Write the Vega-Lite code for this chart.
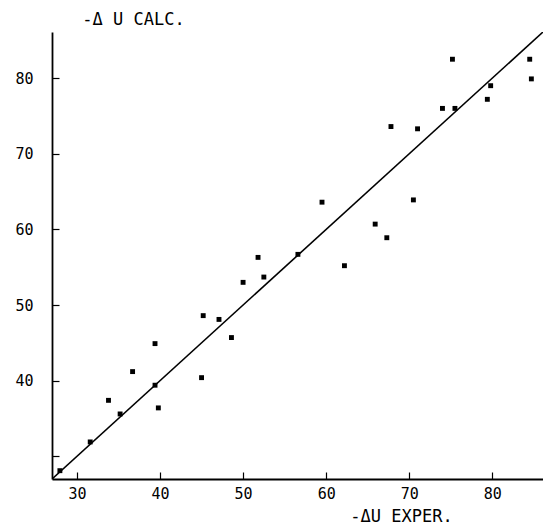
{
  "$schema": "https://vega.github.io/schema/vega-lite/v6.json",
  "autosize": "none",
  "width": 491,
  "height": 447,
  "padding": {"left": 52, "top": 32, "right": 0, "bottom": 47},
  "background": "white",
  "config": {
    "view": {"stroke": null},
    "font": "DejaVu Sans Mono",
    "axis": {
      "grid": false,
      "domainColor": "black",
      "domainWidth": 1.8,
      "tickColor": "black",
      "tickWidth": 1.2,
      "tickSize": -7,
      "labelColor": "black",
      "labelFont": "DejaVu Sans Mono",
      "labelFontSize": 15,
      "titleFont": "DejaVu Sans Mono",
      "titleFontSize": 17,
      "titleFontWeight": "normal",
      "titleColor": "black"
    }
  },
  "datasets": {
    "pts": [
      {"exp": 27.95, "calc": 28.1},
      {"exp": 31.6, "calc": 31.9},
      {"exp": 33.8, "calc": 37.4},
      {"exp": 35.2, "calc": 35.6},
      {"exp": 36.7, "calc": 41.2},
      {"exp": 39.4, "calc": 44.9},
      {"exp": 39.4, "calc": 39.4},
      {"exp": 39.8, "calc": 36.4},
      {"exp": 45.0, "calc": 40.4},
      {"exp": 45.2, "calc": 48.6},
      {"exp": 47.1, "calc": 48.1},
      {"exp": 48.6, "calc": 45.7},
      {"exp": 50.0, "calc": 53.0},
      {"exp": 51.8, "calc": 56.3},
      {"exp": 52.5, "calc": 53.7},
      {"exp": 56.6, "calc": 56.7},
      {"exp": 59.5, "calc": 63.6},
      {"exp": 62.2, "calc": 55.2},
      {"exp": 65.9, "calc": 60.7},
      {"exp": 67.3, "calc": 58.9},
      {"exp": 70.5, "calc": 63.9},
      {"exp": 67.8, "calc": 73.6},
      {"exp": 71.0, "calc": 73.3},
      {"exp": 74.0, "calc": 76.0},
      {"exp": 75.5, "calc": 76.0},
      {"exp": 75.2, "calc": 82.5},
      {"exp": 79.4, "calc": 77.2},
      {"exp": 79.8, "calc": 79.0},
      {"exp": 84.5, "calc": 82.5},
      {"exp": 84.7, "calc": 79.9}
    ],
    "fit": [
      {"exp": 27, "calc": 27},
      {"exp": 86.1, "calc": 86.1}
    ]
  },
  "layer": [
    {
      "data": {"name": "fit"},
      "mark": {"type": "line", "color": "black", "strokeWidth": 1.6, "clip": true},
      "encoding": {
        "x": {
          "field": "exp", "type": "quantitative",
          "scale": {"domain": [27, 86.1], "nice": false, "zero": false},
          "axis": {
            "values": [30, 40, 50, 60, 70, 80],
            "labelPadding": 14,
            "labelDx": -4,
            "title": "-ΔU EXPER.",
            "titleX": 349,
            "titleY": 37,
            "titleAlign": "center",
            "titleBaseline": "middle"
          }
        },
        "y": {
          "field": "calc", "type": "quantitative",
          "scale": {"domain": [27, 86.1], "nice": false, "zero": false},
          "axis": {
            "values": [30, 40, 50, 60, 70, 80],
            "labelExpr": "datum.value == 30 ? '' : datum.label",
            "labelPadding": 26,
            "title": "-Δ U CALC.",
            "titleAngle": 0,
            "titleX": 81,
            "titleY": -13,
            "titleAlign": "center",
            "titleBaseline": "middle"
          }
        }
      }
    },
    {
      "data": {"name": "pts"},
      "mark": {"type": "square", "color": "black", "opacity": 1, "size": 24, "filled": true},
      "encoding": {
        "x": {"field": "exp", "type": "quantitative"},
        "y": {"field": "calc", "type": "quantitative"}
      }
    }
  ]
}
